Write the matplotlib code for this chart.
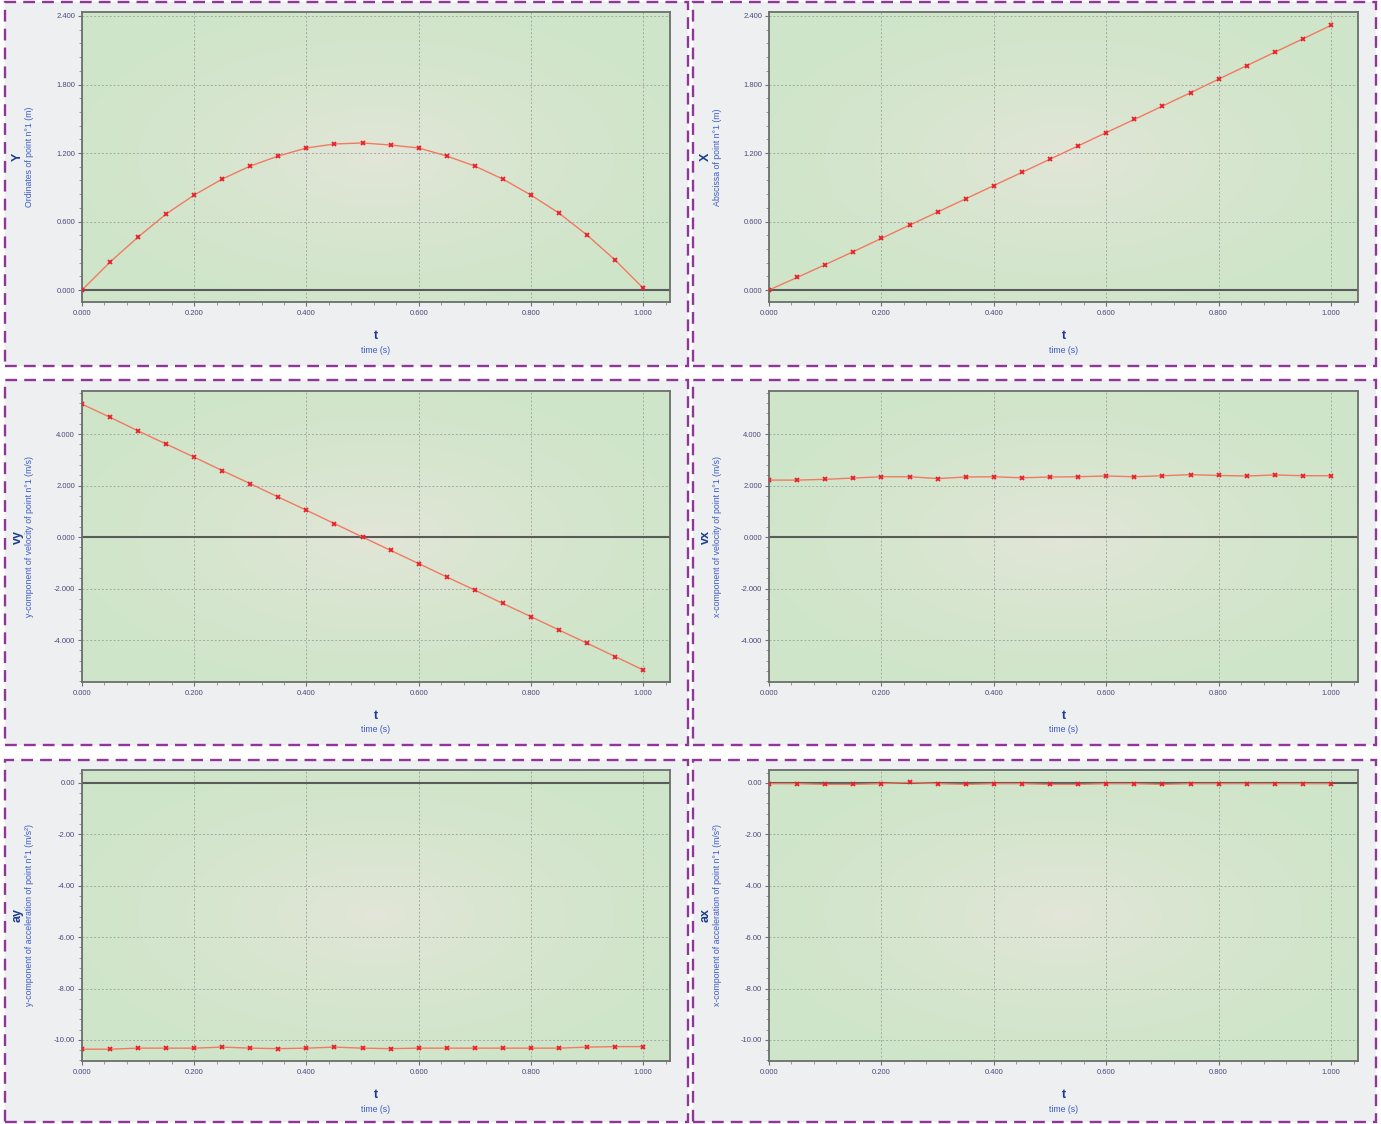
import numpy as np
import matplotlib.pyplot as plt
from matplotlib.patches import Rectangle
from matplotlib.ticker import AutoMinorLocator, FormatStrFormatter

# sampled time (s)
t = [0.00, 0.05, 0.10, 0.15, 0.20, 0.25, 0.30, 0.35, 0.40, 0.45, 0.50,
     0.55, 0.60, 0.65, 0.70, 0.75, 0.80, 0.85, 0.90, 0.95, 1.00]

# ordinate / abscissa of point n°1 (m)
y_pos = [0.000, 0.245, 0.464, 0.666, 0.832, 0.972, 1.086, 1.174, 1.244, 1.279, 1.288,
         1.270, 1.244, 1.174, 1.086, 0.972, 0.832, 0.674, 0.482, 0.263, 0.018]
x_pos = [0.000, 0.110, 0.222, 0.336, 0.452, 0.568, 0.683, 0.799, 0.915, 1.030, 1.146,
         1.262, 1.379, 1.494, 1.611, 1.728, 1.847, 1.965, 2.083, 2.200, 2.318]

# velocity components (m/s)
vy = [5.16, 4.65, 4.12, 3.61, 3.10, 2.58, 2.07, 1.55, 1.04, 0.52, 0.00,
      -0.52, -1.03, -1.55, -2.06, -2.58, -3.09, -3.61, -4.12, -4.64, -5.16]
vx = [2.21, 2.21, 2.24, 2.29, 2.34, 2.34, 2.27, 2.33, 2.34, 2.30, 2.33,
      2.34, 2.37, 2.34, 2.38, 2.42, 2.39, 2.37, 2.41, 2.38, 2.38]

# acceleration components (m/s²)
ay = [-10.36, -10.36, -10.32, -10.32, -10.32, -10.28, -10.32, -10.34, -10.32, -10.28, -10.32,
      -10.34, -10.32, -10.32, -10.32, -10.32, -10.32, -10.32, -10.28, -10.26, -10.26]
ax_ = [-0.03, -0.03, -0.06, -0.06, -0.03, 0.02, -0.03, -0.06, -0.03, -0.03, -0.06,
       -0.06, -0.03, -0.03, -0.06, -0.03, -0.03, -0.03, -0.03, -0.03, -0.03]

xticks = [0.0, 0.2, 0.4, 0.6, 0.8, 1.0]
pos_ticks = [0.0, 0.6, 1.2, 1.8, 2.4]
vel_ticks = [-4.0, -2.0, 0.0, 2.0, 4.0]
acc_ticks = [-10.0, -8.0, -6.0, -4.0, -2.0, 0.0]

panels = [
    # (row, col, data, symbol, description, ylim, yticks, fmt)
    (0, 0, y_pos, 'Y', 'Ordinates of point n°1 (m)', (-0.105, 2.435), pos_ticks, '%.3f'),
    (0, 1, x_pos, 'X', 'Abscissa of point n°1 (m)', (-0.105, 2.435), pos_ticks, '%.3f'),
    (1, 0, vy, 'vy', 'y-component of velocity of point n°1 (m/s)', (-5.63, 5.67), vel_ticks, '%.3f'),
    (1, 1, vx, 'vx', 'x-component of velocity of point n°1 (m/s)', (-5.63, 5.67), vel_ticks, '%.3f'),
    (2, 0, ay, 'ay', 'y-component of acceleration of point n°1 (m/s²)', (-10.82, 0.5), acc_ticks, '%.2f'),
    (2, 1, ax_, 'ax', 'x-component of acceleration of point n°1 (m/s²)', (-10.82, 0.5), acc_ticks, '%.2f'),
]

W, H = 1381, 1124
fig = plt.figure(figsize=(W / 100, H / 100), dpi=100, facecolor='white')

box_x = [(5, 688), (693, 1376)]
box_y = [(2, 366), (380, 745), (760, 1122)]
plot_x = [(82, 670), (769, 1358)]
plot_y = [(12, 302), (391, 682), (770, 1061)]

tick_font = ['Liberation Sans Narrow', 'Liberation Sans', 'DejaVu Sans']
label_font = ['Liberation Sans', 'DejaVu Sans']
sym_color = '#1d3c8f'
desc_color = '#3b5cc4'

# radial green background for the plotting area
gx, gy = np.meshgrid(np.linspace(-1, 1, 300), np.linspace(-1, 1, 200))
rr = np.clip(np.sqrt(gx ** 2 + gy ** 2) / 1.1, 0, 1) ** 0.7
c_in = np.array([228, 230, 217]) / 255.0
c_out = np.array([207, 229, 201]) / 255.0
grad = c_in[None, None, :] + (c_out - c_in)[None, None, :] * rr[:, :, None]


def fx(px):
    return px / W


def fy(py):
    return 1 - py / H


for row, col, data, sym, desc, ylim, yticks, fmt in panels:
    bx0, bx1 = box_x[col]
    by0, by1 = box_y[row]
    fig.patches.append(Rectangle((fx(bx0), fy(by1)), (bx1 - bx0) / W, (by1 - by0) / H,
                                 transform=fig.transFigure, facecolor='#eeeff1',
                                 edgecolor='#8e3798', lw=1.7, linestyle=(0, (5, 3)),
                                 zorder=-5))

    px0, px1 = plot_x[col]
    py0, py1 = plot_y[row]
    ax = fig.add_axes([fx(px0), fy(py1), (px1 - px0) / W, (py1 - py0) / H])
    ax.imshow(grad, extent=(0, 1, 0, 1), transform=ax.transAxes, aspect='auto',
              interpolation='bilinear', zorder=0)

    ax.plot(t, data, color='#f07a62', lw=1.0, zorder=3)
    ax.plot(t, data, ls='none', marker='x', ms=3.5, mew=1.3, color='#e8202a', zorder=4)
    ax.axhline(0, color='#5a5a5a', lw=1.5, zorder=2)

    ax.set_xlim(0, 1.048)
    ax.set_ylim(*ylim)
    ax.set_xticks(xticks)
    ax.set_yticks(yticks)
    ax.xaxis.set_minor_locator(AutoMinorLocator(5))
    ax.yaxis.set_minor_locator(AutoMinorLocator(5))
    ax.xaxis.set_major_formatter(FormatStrFormatter('%.3f'))
    ax.yaxis.set_major_formatter(FormatStrFormatter(fmt))
    ax.grid(True, which='major', color='#a2aaa2', ls=(0, (2, 2)), lw=0.7)
    ax.set_axisbelow(True)
    for sp in ax.spines.values():
        sp.set_color('#6a6f6a')
        sp.set_linewidth(1.3)
    ax.tick_params(which='major', length=3, width=0.8, color='#707070', pad=2,
                   labelsize=5.5, labelcolor='#4a4a78')
    ax.tick_params(which='minor', length=2, width=0.6, color='#8a8a8a')
    ax.tick_params(axis='x', which='major', pad=3)
    for lab in ax.get_xticklabels() + ax.get_yticklabels():
        lab.set_family(tick_font)

    # axis titles: bold symbol plus description
    cy = fy((py0 + py1) / 2)
    cx = fx((px0 + px1) / 2)
    fig.text(fx(bx0 + 13), cy, sym, rotation=90, ha='center', va='center',
             fontsize=9, fontweight='bold', color=sym_color, family=label_font)
    fig.text(fx(bx0 + 25), cy, desc, rotation=90, ha='center', va='center',
             fontsize=6.3, color=desc_color, family=label_font)
    fig.text(cx, fy(py1 + 34), 't', ha='center', va='center',
             fontsize=9, fontweight='bold', color=sym_color, family=label_font)
    fig.text(cx, fy(py1 + 48), 'time (s)', ha='center', va='center',
             fontsize=6.3, color=desc_color, family=label_font)

fig.savefig('out.png', dpi=100, facecolor='white')
